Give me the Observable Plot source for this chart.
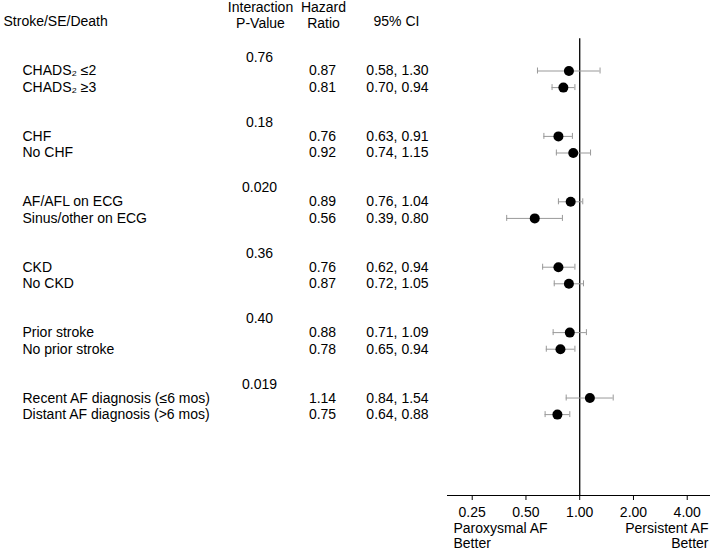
<!DOCTYPE html>
<html><head><meta charset="utf-8">
<script src="https://cdn.jsdelivr.net/npm/d3@7"></script>
<script src="https://cdn.jsdelivr.net/npm/@observablehq/plot@0.6"></script>
<style>body{margin:0;background:#fff} svg{display:block}</style>
</head><body><div id="chart"></div>
<script>
// ---- data ----
const outcomeTitle = "Stroke/SE/Death";
const headerP = "Interaction\nP-Value";
const headerHR = "Hazard\nRatio";
const headerCI = "95% CI";
const pValues = ["0.76", "0.18", "0.020", "0.36", "0.40", "0.019"];
const labels = [
  "CHADS\u2082 \u22642", "CHADS\u2082 \u22653",
  "CHF", "No CHF",
  "AF/AFL on ECG", "Sinus/other on ECG",
  "CKD", "No CKD",
  "Prior stroke", "No prior stroke",
  "Recent AF diagnosis (\u22646 mos)", "Distant AF diagnosis (>6 mos)"
];
const hr = [0.87, 0.81, 0.76, 0.92, 0.89, 0.56, 0.76, 0.87, 0.88, 0.78, 1.14, 0.75];
const lo = [0.58, 0.70, 0.63, 0.74, 0.76, 0.39, 0.62, 0.72, 0.71, 0.65, 0.84, 0.64];
const hi = [1.30, 0.94, 0.91, 1.15, 1.04, 0.80, 0.94, 1.05, 1.09, 0.94, 1.54, 0.88];
const xTicks = [0.25, 0.5, 1, 2, 4];
const leftNote = "Paroxysmal AF\nBetter";
const rightNote = "Persistent AF\nBetter";

// ---- layout ----
const W = 713, H = 551, mL = 447, mR = 3, mT = 0, mB = 56;
const ROW = 16.6, FIRST = 70.5, STRIDE = 3.94, P_OFF = -0.84, REF_PAD = 1.1;
const yMin = -FIRST / ROW, yMax = (H - mB - mT - FIRST) / ROW;

const rows = labels.map((label, i) => ({
  label, hr: hr[i], lo: lo[i], hi: hi[i],
  y: Math.floor(i / 2) * STRIDE + (i % 2),
  hrText: hr[i].toFixed(2),
  ciText: `${lo[i].toFixed(2)}, ${hi[i].toFixed(2)}`
}));
const pRows = pValues.map((p, g) => ({p, y: g * STRIDE + P_OFF}));
const ident = d => d;

const chart = Plot.plot({
  width: W, height: H,
  marginLeft: mL, marginRight: mR, marginTop: mT, marginBottom: mB,
  style: {fontFamily: "'Liberation Sans', Arial, Helvetica, sans-serif", fontSize: "14px", color: "#000", background: "#fff"},
  x: {type: "log", base: 2, domain: [0.1818, 5.40]},
  y: {domain: [yMin, yMax], reverse: true, axis: null},
  marks: [
    // headers
    Plot.text([outcomeTitle], {text: ident, frameAnchor: "top-left", dx: 3 - mL, dy: 21, lineAnchor: "middle", textAnchor: "start"}),
    Plot.text([headerP], {text: ident, frameAnchor: "top-left", dx: 260 - mL, dy: 14.5, lineAnchor: "middle", textAnchor: "middle", lineHeight: 1.15}),
    Plot.text([headerHR], {text: ident, frameAnchor: "top-left", dx: 323 - mL, dy: 14.5, lineAnchor: "middle", textAnchor: "middle", lineHeight: 1.15}),
    Plot.text([headerCI], {text: ident, frameAnchor: "top-left", dx: 396 - mL, dy: 21, lineAnchor: "middle", textAnchor: "middle"}),
    // table columns
    Plot.text(pRows, {y: "y", text: "p", frameAnchor: "left", dx: 259 - mL, textAnchor: "middle"}),
    Plot.text(rows, {y: "y", text: "label", frameAnchor: "left", dx: 22 - mL, textAnchor: "start"}),
    Plot.text(rows, {y: "y", text: "hrText", frameAnchor: "left", dx: 322 - mL, textAnchor: "middle"}),
    Plot.text(rows, {y: "y", text: "ciText", frameAnchor: "left", dx: 397 - mL, textAnchor: "middle"}),
    // reference line and axis
    Plot.ruleX([1], {y1: P_OFF - REF_PAD, y2: yMax, stroke: "#000", strokeWidth: 1.3}),
    Plot.ruleY([yMax], {stroke: "#000", strokeWidth: 1}),
    Plot.axisX(xTicks, {tickSize: 5, tickPadding: 7, tickFormat: d3.format(".2f"), label: null, stroke: "#000"}),
    // CIs
    Plot.ruleY(rows, {y: "y", x1: "lo", x2: "hi", stroke: "#999", strokeWidth: 1}),
    Plot.ruleX(rows, {x: "lo", y1: d => d.y - 0.18, y2: d => d.y + 0.18, stroke: "#999", strokeWidth: 1}),
    Plot.ruleX(rows, {x: "hi", y1: d => d.y - 0.18, y2: d => d.y + 0.18, stroke: "#999", strokeWidth: 1}),
    Plot.dot(rows, {x: "hr", y: "y", r: 5, fill: "#000", stroke: null}),
    // notes under axis
    Plot.text([leftNote], {text: ident, frameAnchor: "bottom-left", dx: 6, dy: 40, lineAnchor: "middle", textAnchor: "start", lineHeight: 1.05}),
    Plot.text([rightNote], {text: ident, frameAnchor: "bottom-right", dx: -2, dy: 40, lineAnchor: "middle", textAnchor: "end", lineHeight: 1.05})
  ]
});
document.getElementById("chart").append(chart);
</script>
</body></html>
